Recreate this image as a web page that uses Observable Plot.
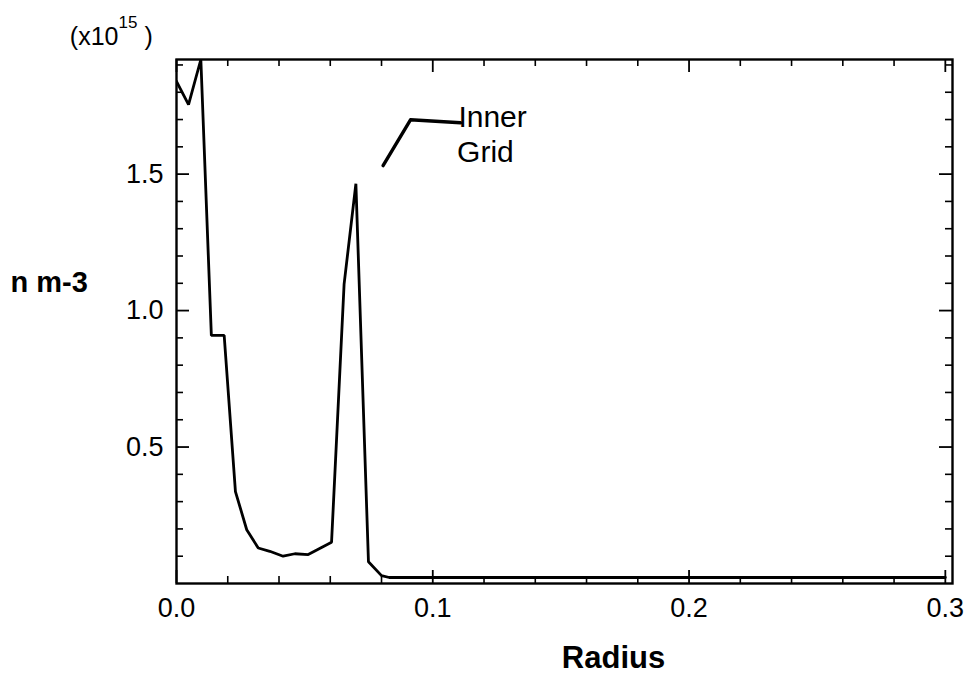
<!DOCTYPE html>
<html>
<head>
<meta charset="utf-8">
<script src="https://cdn.jsdelivr.net/npm/d3@7"></script>
<script src="https://cdn.jsdelivr.net/npm/@observablehq/plot@0.6"></script>
<style>
  html, body { margin: 0; padding: 0; background: #fff; }
  #chart svg { display: block; font-family: "Liberation Sans", Arial, Helvetica, sans-serif; }
</style>
</head>
<body>
<div id="chart"></div>
<script>
// ---- data ----
const radius  = [0, 0.0047, 0.0095, 0.0136, 0.0186, 0.0230, 0.0274, 0.0319, 0.0364, 0.0416, 0.0462, 0.0514, 0.0605, 0.0654, 0.0700, 0.0749, 0.0800, 0.0830, 0.3000];
const density = [1.84, 1.755, 1.92, 0.909, 0.909, 0.337, 0.197, 0.130, 0.118, 0.100, 0.109, 0.106, 0.151, 1.097, 1.465, 0.080, 0.029, 0.022, 0.022];

const xMajorTicks = [0, 0.1, 0.2, 0.3];
const xMinorTicks = [0.02, 0.04, 0.06, 0.08, 0.12, 0.14, 0.16, 0.18, 0.22, 0.24, 0.26, 0.28];
const yMajorTicks = [0.5, 1.0, 1.5];
const yMinorTicks = [0.1, 0.2, 0.3, 0.4, 0.6, 0.7, 0.8, 0.9, 1.1, 1.2, 1.3, 1.4, 1.6, 1.7, 1.8, 1.9];
const yTickLabels = [0.5, 1.0, 1.5];
const xTickLabels = [0, 0.1, 0.2, 0.3];

const annotX = [0.0806, 0.0913, 0.1108];
const annotY = [1.531, 1.699, 1.688];
const annotTextLines = ["Inner", "Grid"];
const annotTextX = [0.1100, 0.1095];
const annotTextY = [1.707, 1.579];

const xDomain = [0, 0.3028];
const yDomain = [0, 1.92];

// ---- layout ----
const W = 970, H = 686;
const mL = 176, mR = 18, mT = 59, mB = 103;
const plotW = W - mL - mR, plotH = H - mT - mB;

const curve = radius.map((r, i) => ({r, n: density[i]}));
const annot = annotX.map((x, i) => ({x, y: annotY[i]}));
const annotText = annotTextLines.map((t, i) => ({t, x: annotTextX[i], y: annotTextY[i]}));

const majorLen = 13, minorLen = 7;

const chart = Plot.plot({
  width: W, height: H,
  marginLeft: mL, marginRight: mR, marginTop: mT, marginBottom: mB,
  style: {background: "#fff", color: "#000", overflow: "visible"},
  x: {domain: xDomain, axis: null},
  y: {domain: yDomain, axis: null},
  marks: [
    // inward ticks: bottom / top
    Plot.ruleX(xMajorTicks, {x: d => d, insetTop: plotH - majorLen, stroke: "#000", strokeWidth: 1.8}),
    Plot.ruleX(xMinorTicks, {x: d => d, insetTop: plotH - minorLen, stroke: "#000", strokeWidth: 1.6}),
    Plot.ruleX(xMajorTicks, {x: d => d, insetBottom: plotH - majorLen, stroke: "#000", strokeWidth: 1.8}),
    Plot.ruleX(xMinorTicks, {x: d => d, insetBottom: plotH - minorLen, stroke: "#000", strokeWidth: 1.6}),
    // inward ticks: left / right
    Plot.ruleY(yMajorTicks, {y: d => d, insetRight: plotW - majorLen, stroke: "#000", strokeWidth: 1.8}),
    Plot.ruleY(yMinorTicks, {y: d => d, insetRight: plotW - minorLen, stroke: "#000", strokeWidth: 1.6}),
    Plot.ruleY(yMajorTicks, {y: d => d, insetLeft: plotW - majorLen, stroke: "#000", strokeWidth: 1.8}),
    Plot.ruleY(yMinorTicks, {y: d => d, insetLeft: plotW - minorLen, stroke: "#000", strokeWidth: 1.6}),
    Plot.frame({stroke: "#000", strokeWidth: 2.4}),
    // tick labels
    Plot.axisX(xTickLabels, {tickSize: 0, tickPadding: 14, tickFormat: d3.format(".1f"), fontSize: 27, label: null}),
    Plot.axisY(yTickLabels, {tickSize: 0, tickPadding: 13, tickFormat: d3.format(".1f"), fontSize: 27, label: null}),
    // data curve
    Plot.line(curve, {x: "r", y: "n", stroke: "#000", strokeWidth: 2.8, strokeLinejoin: "miter", clip: true}),
    // annotation
    Plot.line(annot, {x: "x", y: "y", stroke: "#000", strokeWidth: 3.4, strokeLinecap: "round"}),
    Plot.text(annotText, {x: "x", y: "y", text: "t", textAnchor: "start", lineAnchor: "middle", fontSize: 30, fill: "#000"}),
    // axis titles
    Plot.text(["n m-3"], {frameAnchor: "left", dx: -166, dy: -39, textAnchor: "start", lineAnchor: "middle", fontSize: 29, fontWeight: "bold", fill: "#000"}),
    Plot.text(["Radius"], {frameAnchor: "bottom", dx: 49, dy: 75, textAnchor: "middle", lineAnchor: "middle", fontSize: 31, fontWeight: "bold", fill: "#000"}),
    // exponent label (x10^15)
    Plot.text(["(x10"], {frameAnchor: "top-left", dx: -58, dy: -23, textAnchor: "end", lineAnchor: "middle", fontSize: 25, fill: "#000"}),
    Plot.text(["15"], {frameAnchor: "top-left", dx: -58, dy: -37, textAnchor: "start", lineAnchor: "middle", fontSize: 17, fill: "#000"}),
    Plot.text([")"], {frameAnchor: "top-left", dx: -32, dy: -23, textAnchor: "start", lineAnchor: "middle", fontSize: 25, fill: "#000"})
  ]
});

document.getElementById("chart").appendChild(chart);
</script>
</body>
</html>
